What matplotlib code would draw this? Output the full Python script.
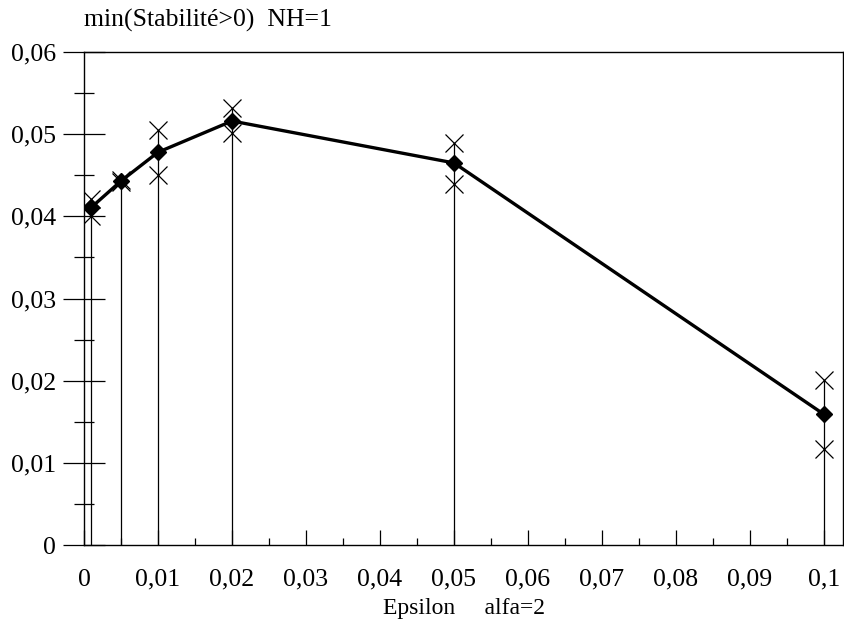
import matplotlib
matplotlib.use('Agg')
import matplotlib.pyplot as plt
from matplotlib.ticker import MultipleLocator, FuncFormatter

epsilon = [0.001, 0.005, 0.01, 0.02, 0.05, 0.1]
mean_val = [0.0411, 0.0443, 0.0478, 0.0516, 0.0465, 0.0159]
upper_val = [0.0421, 0.0444, 0.0505, 0.0532, 0.0489, 0.0201]
lower_val = [0.0401, 0.0442, 0.0450, 0.0501, 0.0439, 0.0117]

plt.rcParams['font.family'] = ['Liberation Serif', 'DejaVu Serif']

fig = plt.figure(figsize=(8.44, 6.35), dpi=100)
ax = fig.add_axes([84/844, 1 - 545/635, 759/844, 493/635])

# drop lines from the top of each range down to zero
ax.vlines(epsilon, 0, upper_val, colors='black', linewidth=0.9)
ax.plot(epsilon, mean_val, color='black', linewidth=2.4, marker='D', markersize=8)
ax.plot(epsilon, upper_val, linestyle='none', marker='x', color='black', markersize=13, markeredgewidth=0.9)
ax.plot(epsilon, lower_val, linestyle='none', marker='x', color='black', markersize=13, markeredgewidth=0.9)

ax.set_xlim(0, 0.10257)
ax.set_ylim(0, 0.06)

def comma(v, pos):
    s = ('%.2f' % v).rstrip('0').rstrip('.')
    return s.replace('.', ',')

ax.xaxis.set_major_locator(MultipleLocator(0.01))
ax.xaxis.set_minor_locator(MultipleLocator(0.005))
ax.yaxis.set_major_locator(MultipleLocator(0.01))
ax.yaxis.set_minor_locator(MultipleLocator(0.005))
ax.xaxis.set_major_formatter(FuncFormatter(comma))
ax.yaxis.set_major_formatter(FuncFormatter(comma))

ax.tick_params(axis='x', which='major', direction='in', length=11, width=0.9, labelsize=18.5, pad=17)
ax.tick_params(axis='x', which='minor', direction='in', length=5, width=0.9)
ax.tick_params(axis='y', which='major', direction='inout', length=30, width=0.9, labelsize=18.5, pad=5)
ax.tick_params(axis='y', which='minor', direction='inout', length=15, width=0.9)

for sp in ax.spines.values():
    sp.set_linewidth(1.0)

fig.text(84/844, 1 - 20/635, 'min(Stabilité>0)  NH=1', fontsize=18.5, ha='left', va='center')
ax.set_xlabel('Epsilon     alfa=2', fontsize=17, labelpad=5)

fig.savefig('out.png', dpi=100)
